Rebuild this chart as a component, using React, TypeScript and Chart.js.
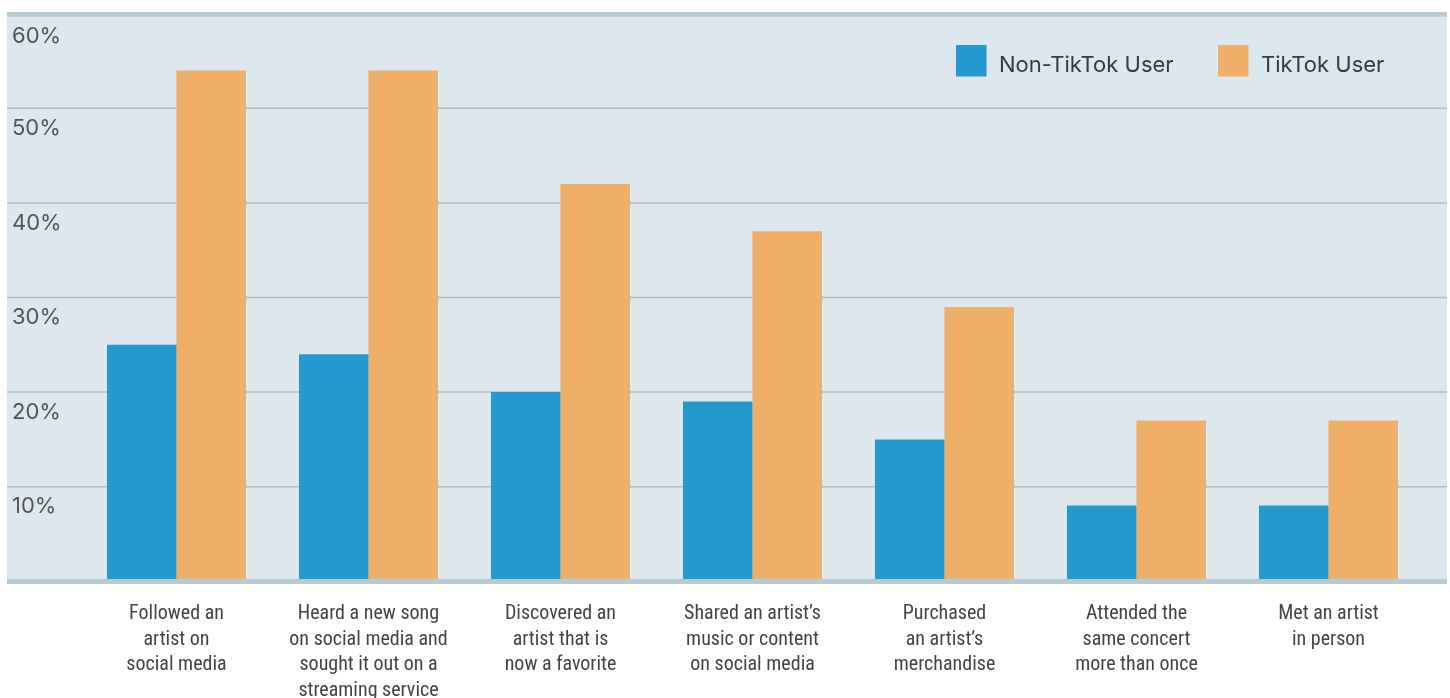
import React, { useEffect, useRef } from "react";
import { Chart, registerables } from "chart.js";

Chart.register(...registerables);

const categories: string[][] = [
  ["Followed an", "artist on", "social media"],
  ["Heard a new song", "on social media and", "sought it out on a", "streaming service"],
  ["Discovered an", "artist that is", "now a favorite"],
  ["Shared an artist’s", "music or content", "on social media"],
  ["Purchased", "an artist’s", "merchandise"],
  ["Attended the", "same concert", "more than once"],
  ["Met an artist", "in person"],
];
const seriesNames = ["Non-TikTok User", "TikTok User"];
const nonTikTokValues = [25, 24, 20, 19, 15, 8, 8];
const tikTokValues = [54, 54, 42, 37, 29, 17, 17];
const yTicks = [10, 20, 30, 40, 50, 60];

const BLUE = "#2598cf";
const ORANGE = "#efaf69";
const BG = "#dde7ee";
const BAND = "#b8c9d2";
const GRID = "#aebfc9";

const decorPlugin = {
  id: "decor",
  beforeDatasetsDraw(chart: any) {
    const { ctx } = chart;
    const y = chart.scales.y;
    const left = 7;
    const right = 1447;
    ctx.save();
    ctx.fillStyle = BG;
    ctx.fillRect(left, y.getPixelForValue(60), right - left, y.getPixelForValue(0) - y.getPixelForValue(60));
    ctx.strokeStyle = GRID;
    ctx.lineWidth = 1.5;
    yTicks.forEach((v) => {
      if (v === 60) return;
      const py = y.getPixelForValue(v);
      ctx.beginPath();
      ctx.moveTo(left, py);
      ctx.lineTo(right, py);
      ctx.stroke();
    });
    ctx.fillStyle = "#555555";
    ctx.font = "22px Inter, 'Open Sans', sans-serif";
    ctx.textAlign = "left";
    ctx.textBaseline = "alphabetic";
    yTicks.forEach((v) => {
      const py = y.getPixelForValue(v);
      const off = v === 60 ? 29.5 : 26.7;
      ctx.fillText(v + "%", 12, py + off);
    });
    ctx.restore();
  },
  afterDatasetsDraw(chart: any) {
    const { ctx } = chart;
    const y = chart.scales.y;
    const left = 7;
    const right = 1447;
    ctx.save();
    ctx.fillStyle = BAND;
    const top = y.getPixelForValue(60);
    ctx.fillRect(left, top - 1.7, right - left, 4.7);
    const bot = y.getPixelForValue(0);
    ctx.fillRect(left, bot - 2.3, right - left, 5);
    // legend
    const items = chart.data.datasets.map((d: any) => ({ label: d.label, color: d.backgroundColor }));
    const boxX = [956, 1218];
    ctx.font = "22px Inter, 'Open Sans', sans-serif";
    ctx.textBaseline = "alphabetic";
    ctx.textAlign = "left";
    items.forEach((it: any, i: number) => {
      ctx.fillStyle = it.color;
      ctx.fillRect(boxX[i], 45, 30.5, 31.5);
      ctx.fillStyle = "#3a3a3a";
      ctx.fillText(it.label, boxX[i] + 43, 71.5);
    });
    ctx.restore();
  },
};

export default function App() {
  const ref = useRef<HTMLCanvasElement | null>(null);
  useEffect(() => {
    if (!ref.current) return;
    const chart = new Chart(ref.current, {
      type: "bar",
      data: {
        labels: categories,
        datasets: [
          { label: seriesNames[0], data: nonTikTokValues, backgroundColor: BLUE, borderWidth: 0, categoryPercentage: 0.724, barPercentage: 1.0 },
          { label: seriesNames[1], data: tikTokValues, backgroundColor: ORANGE, borderWidth: 0, categoryPercentage: 0.724, barPercentage: 1.0 },
        ],
      },
      options: {
        animation: false,
        responsive: false,
        maintainAspectRatio: false,
        layout: { padding: { left: 80.5, right: 25.5, top: 13.7, bottom: 0 } },
        plugins: { legend: { display: false }, tooltip: { enabled: false } },
        scales: {
          x: {
            grid: { display: false },
            border: { display: false },
            ticks: {
              color: "#444444",
              padding: 12,
              maxRotation: 0,
              autoSkip: false,
              font: { family: "'Liberation Sans Narrow', 'Roboto Condensed', 'DejaVu Sans Condensed', Roboto", size: 20, lineHeight: 1.28 },
            },
            afterFit: (scale: any) => {
              scale.height = 116.7;
            },
          } as any,
          y: {
            display: false,
            min: 0,
            max: 60,
          },
        },
      },
      plugins: [decorPlugin],
    });
    return () => chart.destroy();
  }, []);
  return (
    <div style={{ position: "fixed", left: 0, top: 0, width: 1450, height: 698, background: "#fff" }}>
      <canvas ref={ref} width={1450} height={698} style={{ width: 1450, height: 698 }} />
    </div>
  );
}
